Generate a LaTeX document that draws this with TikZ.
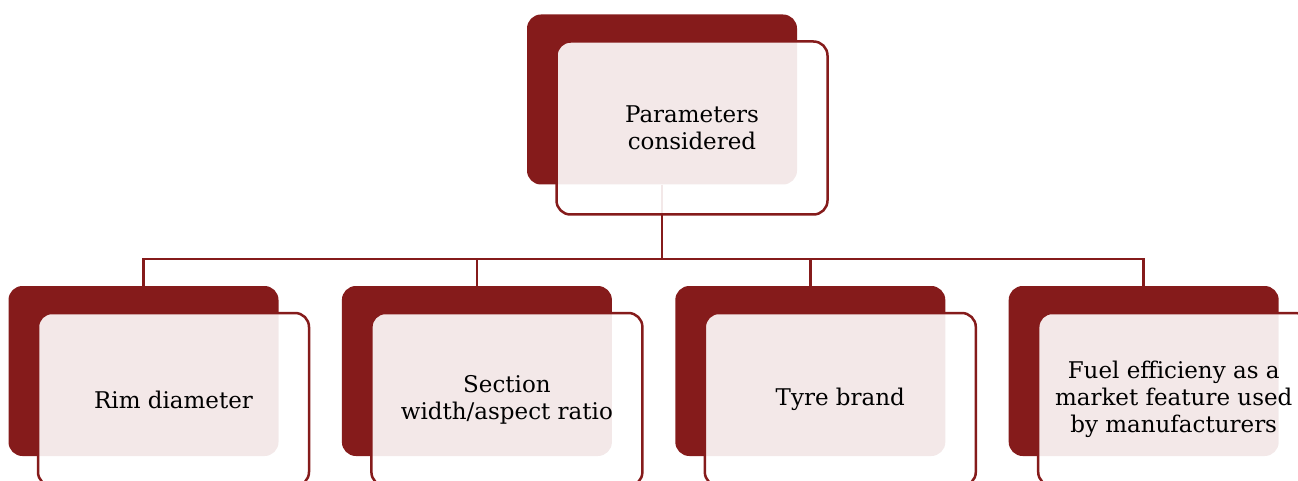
\documentclass[tikz,border=0pt]{standalone}
\usepackage{fontspec}
\setmainfont{DejaVu Serif}
\usepackage{xcolor}
\usetikzlibrary{positioning}
\definecolor{darkred}{RGB}{133,27,27}

\begin{document}
\begin{tikzpicture}[x=1pt,y=-1pt,node distance=63pt,
                    font=\fontsize{23}{27}\selectfont,
                    backbox/.style={rectangle, rounded corners=14pt, fill=darkred, inner sep=0pt,
                                    minimum width=270pt, minimum height=170pt},
                    frontbox/.style={rectangle, rounded corners=14pt, draw=darkred, line width=2.5pt,
                                     fill=white, fill opacity=0.9, text opacity=1, text=black,
                                     align=center, inner sep=0pt, minimum width=271pt, minimum height=173pt},
                    link/.style={draw=darkred, line width=2.5pt}]
      \useasboundingbox (0,0) rectangle (1298,481);

      \node[backbox]                          (topback)   at (662,99.5) {};
      \node[backbox]                          (rimback)   at (143.5,371) {};
      \node[backbox] [right=of rimback]       (secback)   {};
      \node[backbox] [right=of secback]       (brandback) {};
      \node[backbox] [right=of brandback]     (fuelback)  {};

      \coordinate (hub) at ([shift={(0,74.5)}]topback.south);
      \draw[link] (topback.south) -- (hub);
      \foreach \n in {rimback,secback,brandback,fuelback}
        \draw[link] (hub) -| (\n.north);

      \node[frontbox] (top)   at ([shift={(30,28.5)}]topback)   {Parameters\\considered};
      \node[frontbox] (rim)   at ([shift={(30,28.5)}]rimback)   {Rim diameter};
      \node[frontbox] (sec)   at ([shift={(30,28.5)}]secback)   {Section\\width/aspect ratio};
      \node[frontbox] (brand) at ([shift={(30,28.5)}]brandback) {Tyre brand};
      \node[frontbox] (fuel)  at ([shift={(30,28.5)}]fuelback)  {Fuel efficieny as a\\market feature used\\by manufacturers};
\end{tikzpicture}
\end{document}
